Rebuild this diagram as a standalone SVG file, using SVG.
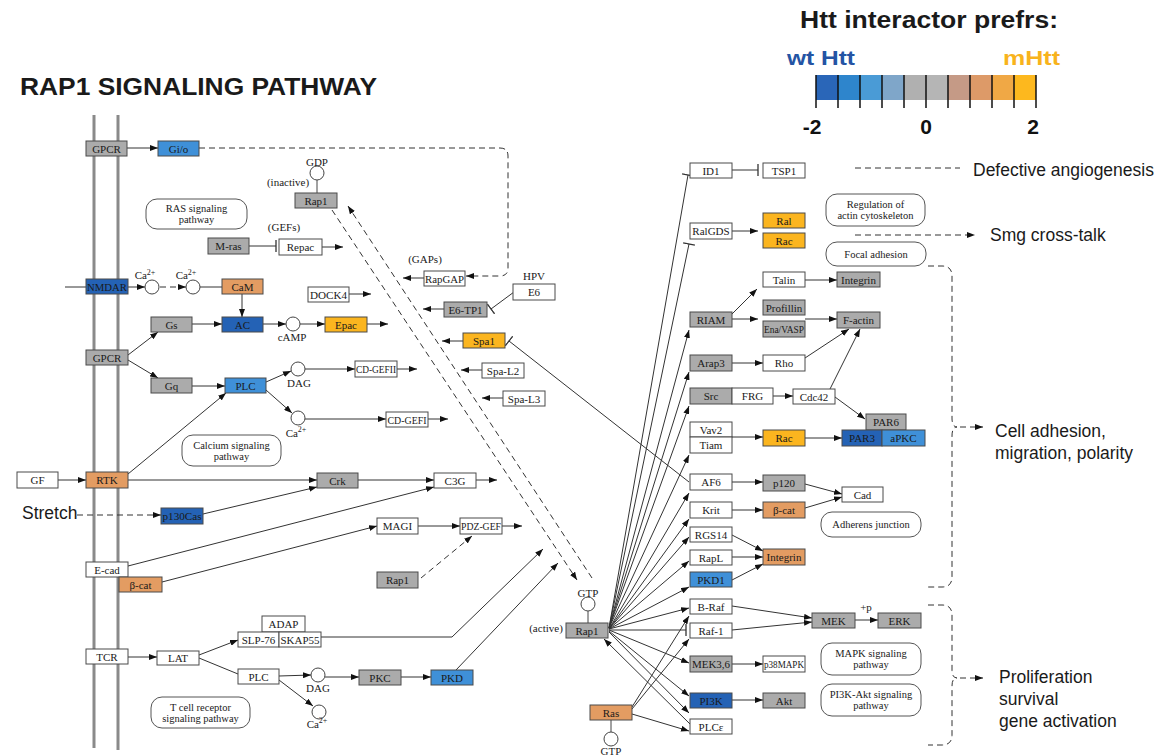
<svg xmlns="http://www.w3.org/2000/svg" width="1172" height="756" viewBox="0 0 1172 756">
<defs>
<style>
.nd rect{stroke:#4a4a4a;stroke-width:1}
.w{fill:#fff}.g{fill:#ababab}.o{fill:#e39c62}.y{fill:#fbb51f}.b{fill:#3f90d8}.d{fill:#2462b5}
.nd text,.lb{font-family:"Liberation Serif","Times New Roman",serif;font-size:11px;fill:#1a1a1a;text-anchor:middle}
.pw rect{fill:#fff;stroke:#555;stroke-width:1}
.pw text{font-family:"Liberation Serif","Times New Roman",serif;font-size:10.5px;fill:#1a1a1a;text-anchor:middle}
.cp circle{fill:#fff;stroke:#444;stroke-width:1}
.cp line{stroke:#444;stroke-width:1}
.e path,.e line{stroke:#333;stroke-width:1;fill:none}
.e .ds{stroke-dasharray:6 4}
.a{marker-end:url(#ar)}
.i{marker-end:url(#bar)}
.big{font-family:"Liberation Sans",Arial,sans-serif;font-size:17.5px;fill:#1a1a1a}
.lg{font-family:"Liberation Sans",Arial,sans-serif;font-weight:bold}
.mem{stroke:#8a8a8a;stroke-width:3}
</style>
<marker id="ar" viewBox="0 0 8 6" markerWidth="8" markerHeight="6" refX="8" refY="3" orient="auto" markerUnits="userSpaceOnUse"><path d="M0,0L8,3L0,6z" fill="#111"/></marker>
<marker id="bar" viewBox="0 0 2 12" markerWidth="2" markerHeight="12" refX="1" refY="6" orient="auto" markerUnits="userSpaceOnUse"><path d="M1,0V12" stroke="#333" stroke-width="1.3"/></marker>
</defs>
<rect width="1172" height="756" fill="#fff"/>

<g id="legend">
<text class="lg" x="929" y="28" text-anchor="middle" font-size="23" fill="#1a1a1a" textLength="258" lengthAdjust="spacingAndGlyphs">Htt interactor prefrs:</text>
<text class="lg" x="787" y="65" font-size="21" fill="#2454a4" textLength="68" lengthAdjust="spacingAndGlyphs">wt Htt</text>
<text class="lg" x="1003" y="65" font-size="21" fill="#f8b31c" textLength="57" lengthAdjust="spacingAndGlyphs">mHtt</text>
<rect x="816" y="75" width="22" height="25" fill="#2a66b8"/>
<rect x="838" y="75" width="22" height="25" fill="#2e85cc"/>
<rect x="860" y="75" width="22" height="25" fill="#4a9bd6"/>
<rect x="882" y="75" width="22" height="25" fill="#7fa6c9"/>
<rect x="904" y="75" width="22" height="25" fill="#b0b0b0"/>
<rect x="926" y="75" width="22" height="25" fill="#b5b5b5"/>
<rect x="948" y="75" width="22" height="25" fill="#c59a86"/>
<rect x="970" y="75" width="22" height="25" fill="#dd9a68"/>
<rect x="992" y="75" width="22" height="25" fill="#f0a845"/>
<rect x="1014" y="75" width="22" height="25" fill="#fdb81e"/>
<g stroke="#111" stroke-width="1.5">
<line x1="816" y1="75" x2="816" y2="108"/><line x1="838" y1="75" x2="838" y2="108"/><line x1="860" y1="75" x2="860" y2="108"/><line x1="882" y1="75" x2="882" y2="108"/><line x1="904" y1="75" x2="904" y2="108"/><line x1="926" y1="75" x2="926" y2="108"/><line x1="948" y1="75" x2="948" y2="108"/><line x1="970" y1="75" x2="970" y2="108"/><line x1="992" y1="75" x2="992" y2="108"/><line x1="1014" y1="75" x2="1014" y2="108"/><line x1="1036" y1="75" x2="1036" y2="108"/>
</g>
<text class="lg" x="812" y="134" font-size="21" text-anchor="middle" fill="#111">-2</text>
<text class="lg" x="926" y="134" font-size="21" text-anchor="middle" fill="#111">0</text>
<text class="lg" x="1033" y="134" font-size="21" text-anchor="middle" fill="#111">2</text>
</g>

<text class="lg" x="20" y="95" font-size="23" fill="#1a1a1a" textLength="357" lengthAdjust="spacingAndGlyphs">RAP1 SIGNALING PATHWAY</text>

<g id="membrane">
<line class="mem" x1="94" y1="115" x2="94" y2="748"/>
<line class="mem" x1="118" y1="115" x2="118" y2="750"/>
</g>

<g id="connectors" class="e">
<line class="a" x1="127" y1="148" x2="158" y2="148"/>
<path class="ds a" d="M199,148H500Q508,148 508,156V268Q508,276 500,276H466"/>
<line class="i" x1="249" y1="246" x2="276" y2="246"/>
<line class="a" x1="322" y1="247" x2="343" y2="247"/>
<line class="a" x1="424" y1="278" x2="403" y2="278"/>
<line class="a" x1="349" y1="294" x2="371" y2="294"/>
<line class="a" x1="444" y1="309" x2="423" y2="309"/>
<line class="i" x1="514" y1="292" x2="491" y2="309"/>
<line x1="65" y1="287" x2="86" y2="287"/>
<line class="a" x1="128" y1="287" x2="145" y2="287"/>
<line class="ds a" x1="160" y1="287" x2="186" y2="287"/>
<line x1="200" y1="287" x2="222" y2="287"/>
<line class="a" x1="242" y1="294" x2="242" y2="317"/>
<line class="a" x1="192" y1="324" x2="222" y2="324"/>
<line class="a" x1="263" y1="324" x2="286" y2="324"/>
<line class="a" x1="300" y1="324" x2="325" y2="324"/>
<line class="a" x1="367" y1="324" x2="388" y2="324"/>
<line class="a" x1="128" y1="355" x2="158" y2="332"/>
<line class="a" x1="128" y1="360" x2="158" y2="378"/>
<line class="a" x1="192" y1="386" x2="225" y2="386"/>
<line class="a" x1="266" y1="382" x2="291" y2="371"/>
<line class="a" x1="266" y1="390" x2="292" y2="413"/>
<line class="a" x1="305" y1="369" x2="355" y2="369"/>
<line class="a" x1="397" y1="369" x2="417" y2="369"/>
<line class="a" x1="305" y1="419" x2="386" y2="419"/>
<line class="a" x1="428" y1="419" x2="448" y2="419"/>
<line class="a" x1="463" y1="341" x2="442" y2="341"/>
<line class="a" x1="482" y1="370" x2="461" y2="370"/>
<line class="a" x1="503" y1="398" x2="482" y2="398"/>
<line class="a" x1="58" y1="480" x2="86" y2="480"/>
<line class="a" x1="128" y1="474" x2="226" y2="393"/>
<line class="a" x1="128" y1="480" x2="317" y2="480"/>
<line class="a" x1="358" y1="480" x2="434" y2="480"/>
<line class="a" x1="476" y1="480" x2="497" y2="480"/>
<line class="ds a" x1="77" y1="515" x2="161" y2="515"/>
<line class="a" x1="203" y1="514" x2="317" y2="487"/>
<line class="a" x1="128" y1="566" x2="434" y2="487"/>
<line class="a" x1="162" y1="582" x2="377" y2="526"/>
<line class="a" x1="418" y1="526" x2="460" y2="526"/>
<line class="a" x1="502" y1="526" x2="522" y2="526"/>
<line class="ds a" x1="421" y1="578" x2="472" y2="536"/>
<line class="a" x1="128" y1="657" x2="157" y2="657"/>
<line class="a" x1="199" y1="655" x2="238" y2="640"/>
<line x1="199" y1="658" x2="238" y2="674"/>
<path class="a" d="M321,637H452L543,549"/>
<line class="a" x1="279" y1="676" x2="311" y2="675"/>
<line class="a" x1="279" y1="680" x2="313" y2="706"/>
<line class="a" x1="325" y1="677" x2="359" y2="677"/>
<line class="a" x1="401" y1="677" x2="431" y2="677"/>
<line class="a" x1="456" y1="670" x2="558" y2="563"/>
<line class="ds a" x1="332" y1="210" x2="577" y2="580"/>
<line class="ds a" x1="592" y1="578" x2="348" y2="206"/>
<line class="i" x1="689" y1="482" x2="509" y2="341"/>
<line class="i" x1="609" y1="628" x2="688" y2="175"/>
<line class="i" x1="609" y1="628" x2="689" y2="244"/>
<line class="a" x1="609" y1="628" x2="689" y2="330"/>
<line class="a" x1="609" y1="628" x2="689" y2="372"/>
<line class="a" x1="609" y1="628" x2="689" y2="406"/>
<line class="a" x1="609" y1="628" x2="689" y2="455"/>
<line class="a" x1="609" y1="629" x2="689" y2="493"/>
<line class="a" x1="609" y1="629" x2="689" y2="519"/>
<line class="a" x1="609" y1="629" x2="689" y2="537"/>
<line class="a" x1="609" y1="629" x2="689" y2="561"/>
<line class="a" x1="609" y1="629" x2="689" y2="587"/>
<line class="a" x1="609" y1="629" x2="689" y2="608"/>
<line class="i" x1="609" y1="630" x2="686" y2="630"/>
<line class="a" x1="609" y1="630" x2="689" y2="663"/>
<line class="a" x1="609" y1="631" x2="689" y2="696"/>
<line class="a" x1="609" y1="632" x2="689" y2="713"/>
<line class="a" x1="690" y1="724" x2="604" y2="639"/>
<line class="a" x1="632" y1="707" x2="689" y2="616"/>
<line class="a" x1="632" y1="709" x2="689" y2="639"/>
<line class="a" x1="632" y1="714" x2="689" y2="731"/>
<line class="i" x1="732" y1="170" x2="758" y2="170"/>
<line class="a" x1="732" y1="231" x2="758" y2="231"/>
<line class="a" x1="805" y1="280" x2="837" y2="280"/>
<line class="a" x1="732" y1="314" x2="757" y2="289"/>
<line class="a" x1="732" y1="319" x2="758" y2="319"/>
<line class="a" x1="805" y1="319" x2="837" y2="319"/>
<line class="a" x1="805" y1="358" x2="849" y2="329"/>
<line class="a" x1="830" y1="389" x2="860" y2="329"/>
<line class="a" x1="732" y1="363" x2="763" y2="363"/>
<line class="a" x1="773" y1="396" x2="793" y2="396"/>
<line class="a" x1="835" y1="397" x2="865" y2="419"/>
<line class="a" x1="732" y1="437" x2="763" y2="437"/>
<line class="a" x1="805" y1="438" x2="842" y2="438"/>
<line class="a" x1="732" y1="482" x2="763" y2="482"/>
<line class="a" x1="805" y1="484" x2="842" y2="494"/>
<line class="a" x1="732" y1="510" x2="763" y2="510"/>
<line class="a" x1="805" y1="508" x2="842" y2="497"/>
<line class="a" x1="732" y1="535" x2="763" y2="551"/>
<line class="a" x1="732" y1="557" x2="763" y2="557"/>
<line class="a" x1="732" y1="580" x2="763" y2="564"/>
<line class="a" x1="732" y1="606" x2="812" y2="618"/>
<line class="a" x1="732" y1="630" x2="812" y2="622"/>
<line class="a" x1="855" y1="620" x2="878" y2="620"/>
<line class="a" x1="732" y1="664" x2="763" y2="664"/>
<line class="a" x1="732" y1="700" x2="763" y2="700"/>
<line class="ds" x1="855" y1="168" x2="960" y2="168"/>
<line class="ds a" x1="855" y1="235" x2="975" y2="235"/>
<path class="ds" d="M928,266H942Q952,266 952,276V418Q952,427 957,427Q952,427 952,436V577Q952,587 942,587H928"/>
<line class="ds a" x1="960" y1="427" x2="983" y2="427"/>
<path class="ds" d="M928,605H942Q952,605 952,615V670Q952,678 957,678Q952,678 952,686V735Q952,745 942,745H928"/>
<line class="ds a" x1="960" y1="678" x2="983" y2="678"/>
</g>

<g id="compounds" class="cp">
<g id="c-gdp"><line x1="317" y1="180" x2="317" y2="193"/><circle cx="317" cy="173" r="7"/><text class="lb" x="317" y="166">GDP</text></g>
<g id="c-ca1"><text class="lb" x="145" y="279">Ca<tspan font-size="8" dy="-4">2+</tspan></text><circle cx="152" cy="287" r="7"/></g>
<g id="c-ca2"><text class="lb" x="186" y="279">Ca<tspan font-size="8" dy="-4">2+</tspan></text><circle cx="193" cy="287" r="7"/></g>
<g id="c-camp"><circle cx="293" cy="324" r="7"/><text class="lb" x="292" y="341">cAMP</text></g>
<g id="c-dag1"><circle cx="298" cy="369" r="7"/><text class="lb" x="299" y="387">DAG</text></g>
<g id="c-ca3"><circle cx="298" cy="418" r="7"/><text class="lb" x="296" y="437">Ca<tspan font-size="8" dy="-5">2+</tspan></text></g>
<g id="c-dag2"><circle cx="318" cy="675" r="7"/><text class="lb" x="318" y="692">DAG</text></g>
<g id="c-ca4"><circle cx="319" cy="712" r="7"/><text class="lb" x="317" y="728">Ca<tspan font-size="8" dy="-5">2+</tspan></text></g>
<g id="c-gtp1"><line x1="588" y1="611" x2="588" y2="623"/><circle cx="588" cy="604" r="7"/><text class="lb" x="588" y="597">GTP</text></g>
<g id="c-gtp2"><line x1="611" y1="720" x2="611" y2="732"/><circle cx="611" cy="739" r="7"/><text class="lb" x="611" y="755">GTP</text></g>
</g>

<g id="labels">
<text class="lb" x="288" y="186">(inactive)</text>
<text class="lb" x="284" y="231">(GEFs)</text>
<text class="lb" x="425" y="263">(GAPs)</text>
<text class="lb" x="534" y="280">HPV</text>
<text class="lb" x="546" y="632">(active)</text>
<text class="lb" x="866" y="611">+p</text>
<text class="big" x="22" y="519">Stretch</text>
<text class="big" x="973" y="176">Defective angiogenesis</text>
<text class="big" x="990" y="241">Smg cross-talk</text>
<text class="big" x="995" y="437">Cell adhesion,</text>
<text class="big" x="995" y="459">migration, polarity</text>
<text class="big" x="999" y="683">Proliferation</text>
<text class="big" x="999" y="705">survival</text>
<text class="big" x="999" y="727">gene activation</text>
</g>

<g id="pathways" class="pw">
<g id="p-ras"><rect x="146" y="199" width="101" height="30" rx="11"/><text x="196.5" y="212">RAS signaling</text><text x="196.5" y="223">pathway</text></g>
<g id="p-ca"><rect x="182" y="435" width="99" height="31" rx="11"/><text x="231.5" y="449">Calcium signaling</text><text x="231.5" y="460">pathway</text></g>
<g id="p-tcr"><rect x="151" y="697" width="99" height="31" rx="11"/><text x="200.5" y="711">T cell receptor</text><text x="200.5" y="722">signaling pathway</text></g>
<g id="p-actin"><rect x="826" y="194" width="99" height="32" rx="11"/><text x="875.5" y="208">Regulation of</text><text x="875.5" y="219">actin cytoskeleton</text></g>
<g id="p-focal"><rect x="826" y="242" width="100" height="24" rx="11"/><text x="876" y="258">Focal adhesion</text></g>
<g id="p-adh"><rect x="821" y="512" width="100" height="25" rx="11"/><text x="871" y="528">Adherens junction</text></g>
<g id="p-mapk"><rect x="821" y="643" width="100" height="32" rx="11"/><text x="871" y="657">MAPK signaling</text><text x="871" y="668">pathway</text></g>
<g id="p-pi3k"><rect x="821" y="684" width="100" height="32" rx="11"/><text x="871" y="698">PI3K-Akt signaling</text><text x="871" y="709">pathway</text></g>
</g>

<g id="nodes" class="nd">
<g id="n-gpcr1"><rect class="g" x="86" y="141" width="41" height="15"/><text x="106.5" y="152.5">GPCR</text></g>
<g id="n-gio"><rect class="b" x="158" y="141" width="41" height="15"/><text x="178.5" y="152.5">Gi/o</text></g>
<g id="n-nmdar"><rect class="d" x="86" y="279" width="42" height="15"/><text x="107" y="290.5" textLength="40" lengthAdjust="spacingAndGlyphs">NMDAR</text></g>
<g id="n-cam"><rect class="o" x="222" y="279" width="41" height="15"/><text x="242.5" y="290.5">CaM</text></g>
<g id="n-ac"><rect class="d" x="222" y="317" width="41" height="15"/><text x="242.5" y="328.5">AC</text></g>
<g id="n-gs"><rect class="g" x="151" y="317" width="41" height="15"/><text x="171.5" y="328.5">Gs</text></g>
<g id="n-gpcr2"><rect class="g" x="86" y="350" width="42" height="15"/><text x="107" y="361.5">GPCR</text></g>
<g id="n-gq"><rect class="g" x="151" y="378" width="41" height="15"/><text x="171.5" y="389.5">Gq</text></g>
<g id="n-plc1"><rect class="b" x="225" y="378" width="41" height="15"/><text x="245.5" y="389.5">PLC</text></g>
<g id="n-gf"><rect class="w" x="17" y="472" width="41" height="16"/><text x="37.5" y="484">GF</text></g>
<g id="n-rtk"><rect class="o" x="86" y="472" width="42" height="16"/><text x="107" y="484">RTK</text></g>
<g id="n-p130cas"><rect class="d" x="161" y="508" width="42" height="16"/><text x="182" y="520" textLength="39" lengthAdjust="spacingAndGlyphs">p130Cas</text></g>
<g id="n-ecad"><rect class="w" x="86" y="562" width="42" height="15"/><text x="107" y="573.5">E-cad</text></g>
<g id="n-bcat1"><rect class="o" x="119" y="577" width="43" height="15"/><text x="140.5" y="588.5">β-cat</text></g>
<g id="n-tcr"><rect class="w" x="86" y="649" width="42" height="15"/><text x="107" y="660.5">TCR</text></g>
<g id="n-lat"><rect class="w" x="157" y="651" width="42" height="14"/><text x="178" y="662">LAT</text></g>
<g id="n-adap"><rect class="w" x="262" y="616" width="43" height="16"/><text x="283.5" y="628">ADAP</text></g>
<g id="n-slp76"><rect class="w" x="238" y="632" width="41" height="15"/><text x="258.5" y="643.5">SLP-76</text></g>
<g id="n-skap55"><rect class="w" x="279" y="632" width="42" height="15"/><text x="300" y="643.5" textLength="39" lengthAdjust="spacingAndGlyphs">SKAP55</text></g>
<g id="n-plc2"><rect class="w" x="238" y="669" width="41" height="15"/><text x="258.5" y="680.5">PLC</text></g>
<g id="n-pkc"><rect class="g" x="359" y="670" width="42" height="15"/><text x="380" y="681.5">PKC</text></g>
<g id="n-pkd"><rect class="b" x="431" y="670" width="42" height="15"/><text x="452" y="681.5">PKD</text></g>
<g id="n-mras"><rect class="g" x="208" y="238" width="41" height="16"/><text x="228.5" y="250">M-ras</text></g>
<g id="n-repac"><rect class="w" x="279" y="239" width="43" height="16"/><text x="300.5" y="251">Repac</text></g>
<g id="n-rap1i"><rect class="g" x="295" y="193" width="42" height="15"/><text x="316" y="204.5">Rap1</text></g>
<g id="n-dock4"><rect class="w" x="308" y="287" width="41" height="15"/><text x="328.5" y="298.5" textLength="37" lengthAdjust="spacingAndGlyphs">DOCK4</text></g>
<g id="n-rapgap"><rect class="w" x="424" y="271" width="41" height="15"/><text x="444.5" y="282.5" textLength="39" lengthAdjust="spacingAndGlyphs">RapGAP</text></g>
<g id="n-e6tp1"><rect class="g" x="444" y="302" width="43" height="15"/><text x="465.5" y="313.5">E6-TP1</text></g>
<g id="n-e6"><rect class="w" x="513" y="284" width="42" height="16"/><text x="534" y="296">E6</text></g>
<g id="n-epac"><rect class="y" x="325" y="317" width="42" height="15"/><text x="346" y="328.5">Epac</text></g>
<g id="n-spa1"><rect class="y" x="463" y="333" width="42" height="15"/><text x="484" y="344.5">Spa1</text></g>
<g id="n-cdgef2"><rect class="w" x="355" y="361" width="42" height="16"/><text x="376" y="373" textLength="40" lengthAdjust="spacingAndGlyphs">CD-GEFII</text></g>
<g id="n-spal2"><rect class="w" x="482" y="363" width="42" height="15"/><text x="503" y="374.5">Spa-L2</text></g>
<g id="n-spal3"><rect class="w" x="503" y="391" width="42" height="15"/><text x="524" y="402.5">Spa-L3</text></g>
<g id="n-cdgef1"><rect class="w" x="386" y="412" width="42" height="15"/><text x="407" y="423.5" textLength="39" lengthAdjust="spacingAndGlyphs">CD-GEFI</text></g>
<g id="n-crk"><rect class="g" x="317" y="473" width="41" height="15"/><text x="337.5" y="484.5">Crk</text></g>
<g id="n-c3g"><rect class="w" x="434" y="473" width="42" height="15"/><text x="455" y="484.5">C3G</text></g>
<g id="n-magi"><rect class="w" x="377" y="518" width="41" height="16"/><text x="397.5" y="530">MAGI</text></g>
<g id="n-pdzgef"><rect class="w" x="460" y="518" width="42" height="16"/><text x="481" y="530" textLength="40" lengthAdjust="spacingAndGlyphs">PDZ-GEF</text></g>
<g id="n-rap1b"><rect class="g" x="377" y="572" width="41" height="16"/><text x="397.5" y="584">Rap1</text></g>
<g id="n-rap1a"><rect class="g" x="566" y="623" width="42" height="15"/><text x="587" y="634.5">Rap1</text></g>
<g id="n-ras"><rect class="o" x="590" y="705" width="42" height="15"/><text x="611" y="716.5">Ras</text></g>
<g id="n-id1"><rect class="w" x="690" y="163" width="42" height="15"/><text x="711" y="174.5">ID1</text></g>
<g id="n-tsp1"><rect class="w" x="763" y="163" width="42" height="15"/><text x="784" y="174.5">TSP1</text></g>
<g id="n-ralgds"><rect class="w" x="690" y="223" width="42" height="16"/><text x="711" y="235">RalGDS</text></g>
<g id="n-ral"><rect class="y" x="763" y="213" width="42" height="15"/><text x="784" y="224.5">Ral</text></g>
<g id="n-rac1"><rect class="y" x="763" y="233" width="42" height="15"/><text x="784" y="244.5">Rac</text></g>
<g id="n-talin"><rect class="w" x="763" y="272" width="42" height="15"/><text x="784" y="283.5">Talin</text></g>
<g id="n-integrin1"><rect class="g" x="837" y="272" width="43" height="15"/><text x="858.5" y="283.5">Integrin</text></g>
<g id="n-riam"><rect class="g" x="690" y="312" width="42" height="15"/><text x="711" y="323.5">RIAM</text></g>
<g id="n-profillin"><rect class="g" x="763" y="300" width="42" height="15"/><text x="784" y="311.5">Profillin</text></g>
<g id="n-enavasp"><rect class="g" x="763" y="321" width="42" height="16"/><text x="784" y="333" textLength="40" lengthAdjust="spacingAndGlyphs">Ena/VASP</text></g>
<g id="n-factin"><rect class="g" x="837" y="312" width="43" height="16"/><text x="858.5" y="324">F-actin</text></g>
<g id="n-arap3"><rect class="g" x="690" y="355" width="42" height="16"/><text x="711" y="367">Arap3</text></g>
<g id="n-rho"><rect class="w" x="763" y="355" width="42" height="16"/><text x="784" y="367">Rho</text></g>
<g id="n-src"><rect class="g" x="690" y="388" width="42" height="16"/><text x="711" y="400">Src</text></g>
<g id="n-frg"><rect class="w" x="732" y="388" width="41" height="16"/><text x="752.5" y="400">FRG</text></g>
<g id="n-cdc42"><rect class="w" x="793" y="389" width="42" height="15"/><text x="814" y="400.5">Cdc42</text></g>
<g id="n-vav2"><rect class="w" x="690" y="422" width="42" height="15"/><text x="711" y="433.5">Vav2</text></g>
<g id="n-tiam"><rect class="w" x="690" y="437" width="42" height="16"/><text x="711" y="449">Tiam</text></g>
<g id="n-rac2"><rect class="y" x="763" y="430" width="42" height="16"/><text x="784" y="442">Rac</text></g>
<g id="n-par6"><rect class="g" x="866" y="414" width="40" height="16"/><text x="886" y="426">PAR6</text></g>
<g id="n-par3"><rect class="d" x="842" y="430" width="40" height="16"/><text x="862" y="442">PAR3</text></g>
<g id="n-apkc"><rect class="b" x="882" y="430" width="43" height="16"/><text x="903.5" y="442">aPKC</text></g>
<g id="n-af6"><rect class="w" x="690" y="474" width="42" height="16"/><text x="711" y="486">AF6</text></g>
<g id="n-p120"><rect class="g" x="763" y="475" width="42" height="16"/><text x="784" y="487">p120</text></g>
<g id="n-cad"><rect class="w" x="842" y="487" width="41" height="15"/><text x="862.5" y="498.5">Cad</text></g>
<g id="n-krit"><rect class="w" x="690" y="502" width="42" height="16"/><text x="711" y="514">Krit</text></g>
<g id="n-bcat2"><rect class="o" x="763" y="502" width="42" height="16"/><text x="784" y="514">β-cat</text></g>
<g id="n-rgs14"><rect class="w" x="690" y="527" width="42" height="15"/><text x="711" y="538.5">RGS14</text></g>
<g id="n-rapl"><rect class="w" x="690" y="550" width="42" height="15"/><text x="711" y="561.5">RapL</text></g>
<g id="n-integrin2"><rect class="o" x="763" y="549" width="42" height="16"/><text x="784" y="561">Integrin</text></g>
<g id="n-pkd1"><rect class="b" x="690" y="572" width="42" height="15"/><text x="711" y="583.5">PKD1</text></g>
<g id="n-braf"><rect class="w" x="690" y="599" width="42" height="15"/><text x="711" y="610.5">B-Raf</text></g>
<g id="n-raf1"><rect class="w" x="690" y="623" width="42" height="15"/><text x="711" y="634.5">Raf-1</text></g>
<g id="n-mek"><rect class="g" x="812" y="613" width="43" height="15"/><text x="833.5" y="624.5">MEK</text></g>
<g id="n-erk"><rect class="g" x="878" y="613" width="43" height="15"/><text x="899.5" y="624.5">ERK</text></g>
<g id="n-mek36"><rect class="g" x="690" y="656" width="42" height="16"/><text x="711" y="668">MEK3,6</text></g>
<g id="n-p38"><rect class="w" x="763" y="656" width="42" height="16"/><text x="784" y="668" textLength="40" lengthAdjust="spacingAndGlyphs">p38MAPK</text></g>
<g id="n-pi3k"><rect class="d" x="690" y="693" width="42" height="15"/><text x="711" y="704.5">PI3K</text></g>
<g id="n-akt"><rect class="g" x="763" y="693" width="42" height="15"/><text x="784" y="704.5">Akt</text></g>
<g id="n-plce"><rect class="w" x="690" y="719" width="42" height="15"/><text x="711" y="730.5">PLCε</text></g>
</g>
</svg>
